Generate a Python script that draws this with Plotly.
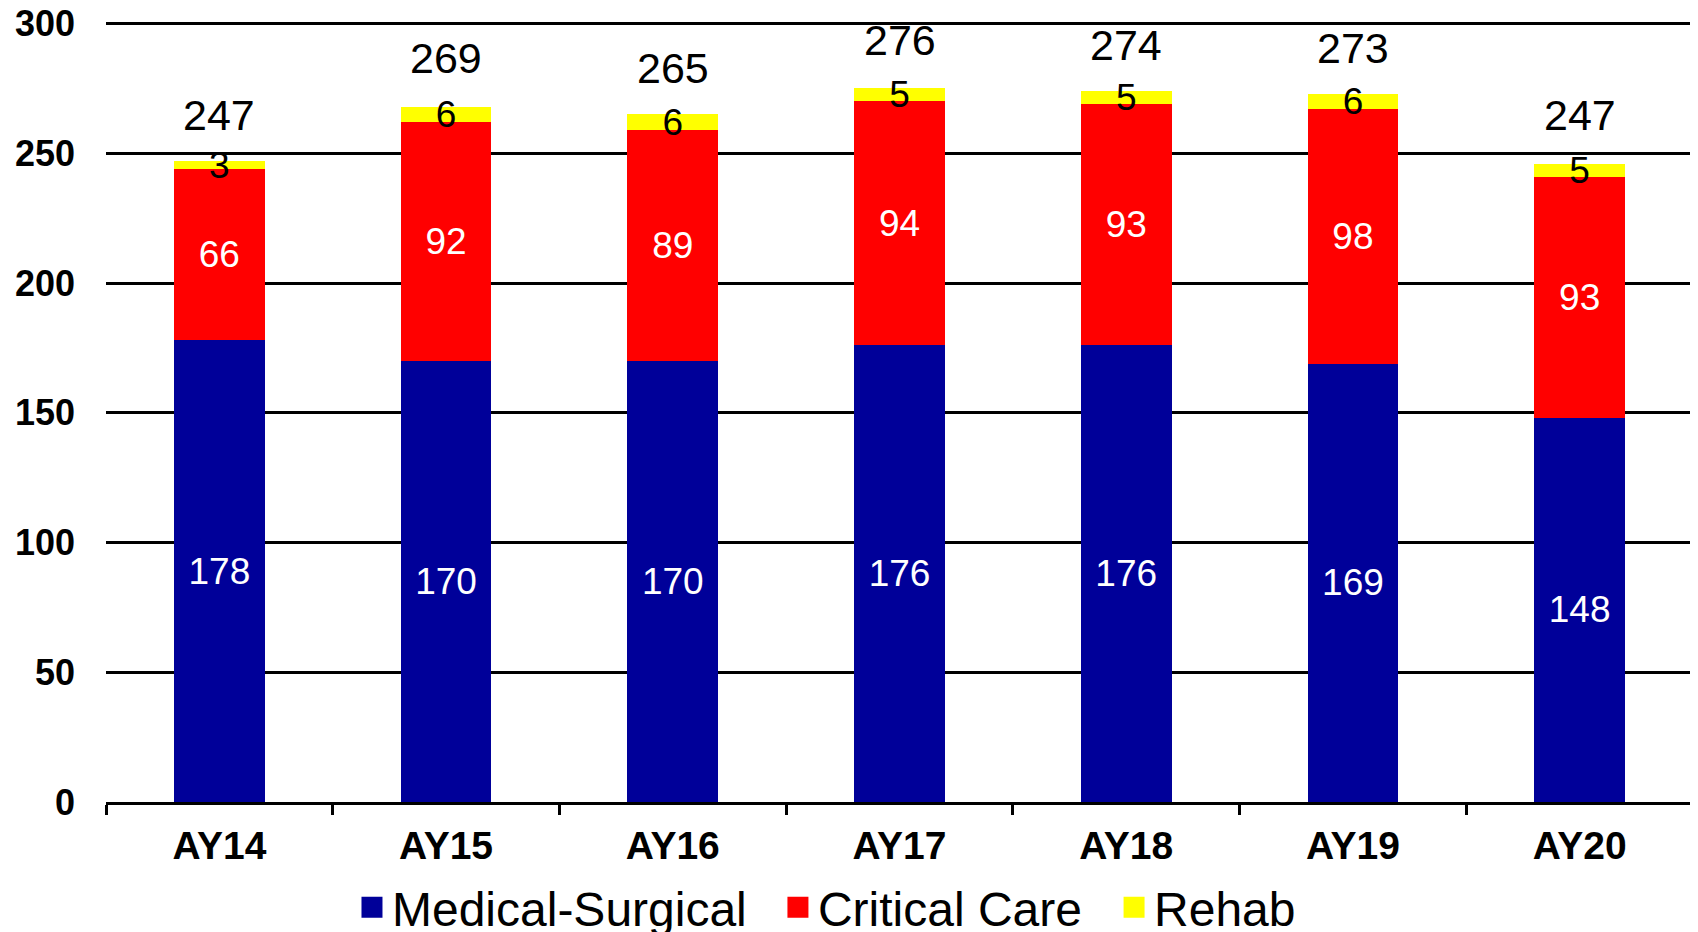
import plotly.graph_objects as go

categories = ["AY14", "AY15", "AY16", "AY17", "AY18", "AY19", "AY20"]
medical_surgical = [178, 170, 170, 176, 176, 169, 148]
critical_care = [66, 92, 89, 94, 93, 98, 93]
rehab = [3, 6, 6, 5, 5, 6, 5]
totals = [247, 269, 265, 276, 274, 273, 247]
y_ticks = [0, 50, 100, 150, 200, 250, 300]

FONT = "Liberation Sans, Arial, sans-serif"
NAVY = "#000099"
RED = "#FF0000"
YELLOW = "#FFFF00"

fig = go.Figure()

series = [
    ("Medical-Surgical", medical_surgical, NAVY, "white", "legend", 0.155),
    ("Critical Care", critical_care, RED, "white", "legend2", 0.4234),
    ("Rehab", rehab, YELLOW, "black", "legend3", 0.6352),
]
for name, vals, color, tcolor, leg, lx in series:
    fig.add_trace(go.Bar(
        x=categories, y=vals, name=name,
        marker=dict(color=color, line=dict(width=0)),
        text=[str(v) for v in vals],
        textposition="inside", insidetextanchor="middle",
        constraintext="none", textangle=0,
        textfont=dict(family=FONT, size=37, color=tcolor),
        showlegend=False, cliponaxis=False,
    ))
    # legend proxy
    fig.add_trace(go.Scatter(
        x=[None], y=[None], mode="markers", name=name,
        marker=dict(symbol="square", size=24, color=color,
                    line=dict(width=5, color=color)),
        showlegend=True, legend=leg,
    ))

for c, t in zip(categories, totals):
    fig.add_annotation(x=c, y=t, text=str(t), showarrow=False,
                       yanchor="middle", yshift=46,
                       font=dict(family=FONT, size=43, color="black"))

legend_style = dict(orientation="h", xanchor="left", y=-0.135, yanchor="middle",
                    font=dict(family=FONT, size=48, color="black"),
                    itemsizing="trace", itemwidth=30, borderwidth=0,
                    bgcolor="rgba(0,0,0,0)")

fig.update_layout(
    width=1690, height=924,
    barmode="stack", bargap=0.6,
    plot_bgcolor="white", paper_bgcolor="white",
    margin=dict(l=98, r=5, t=13, b=130, autoexpand=False),
    font=dict(family=FONT, color="black"),
    legend=dict(x=series[0][5], **legend_style),
    legend2=dict(x=series[1][5], **legend_style),
    legend3=dict(x=series[2][5], **legend_style),
)
fig.update_xaxes(
    showline=True, linecolor="black", linewidth=3,
    ticks="outside", tickson="boundaries", ticklen=10, tickwidth=3, tickcolor="black",
    tickfont=dict(family=FONT, size=39, color="black", weight="bold"),
    ticklabelstandoff=7,
    showgrid=False,
)
fig.update_yaxes(
    range=[0, 301], tickvals=y_ticks,
    showgrid=True, gridcolor="black", gridwidth=3,
    showline=False, ticks="", zeroline=False,
    tickfont=dict(family=FONT, size=36, color="black", weight="bold"),
    ticklabelstandoff=30, ticklabeloverflow="allow",
)

fig.write_html("out.html")
